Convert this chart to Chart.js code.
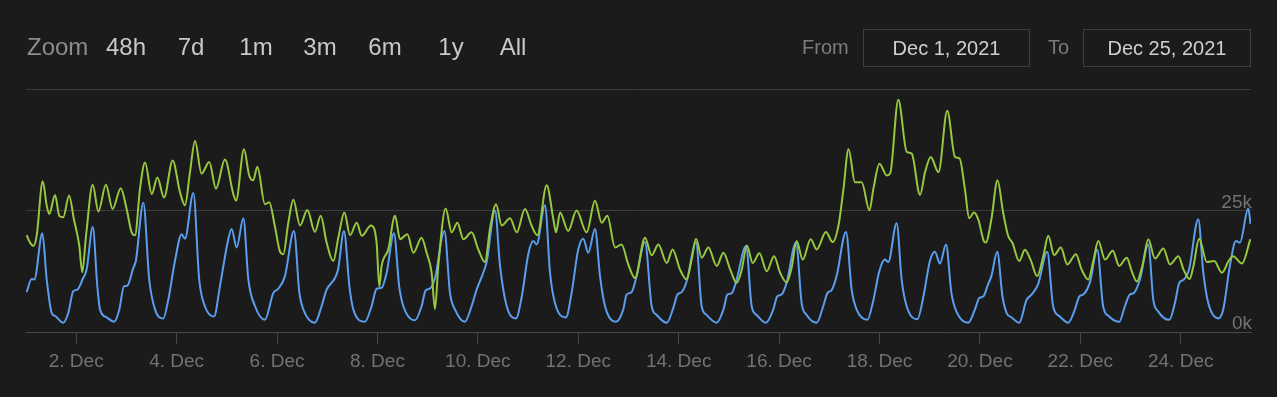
<!DOCTYPE html>
<html>
<head>
<meta charset="utf-8">
<script src="https://cdn.jsdelivr.net/npm/chart.js@4"></script>
<style>
  html, body { margin: 0; padding: 0; background: #1b1b1b; }
  #wrap { position: relative; width: 1277px; height: 397px; font-family: "Liberation Sans", Arial, sans-serif; }
  #chart { position: absolute; left: 0; top: 0; }
  .lbl { position: absolute; color: #8a8a8a; line-height: 1; white-space: nowrap; }
  .btn { position: absolute; color: #c8c8c8; font-size: 24px; line-height: 1; top: 35px; transform: translateX(-50%); }
  .box { position: absolute; top: 29px; height: 36px; border: 1px solid #3e3e3e; color: #cfcfcf;
         font-size: 20px; line-height: 36px; text-align: center; box-sizing: content-box; }
</style>
</head>
<body>
<div id="wrap">
  <canvas id="chart" width="1277" height="397"></canvas>
  <div id="topbar"></div>
</div>
<script>
// hours since Dec 1 00:00 (thousands)
let greenHours = [0.3,1.9,3.5,5.1,8.0,9.9,11.1,13.9,15.9,17.8,20.6,22.9,25.4,26.9,28.7,31.9,34.6,38.2,41.4,45.3,48.1,50.5,52.1,54.5,56.9,60.1,62.8,66.0,70.1,73.6,76.0,78.4,80.8,83.9,87.6,90.8,95.1,99.1,100.4,104.2,106.7,108.6,110.6,114.2,116.3,118.9,121.3,123.0,125.4,127.8,131.0,134.5,138.1,140.9,143.7,146.9,149.3,152.2,154.9,158.1,160.5,164.9,167.6,168.9,170.0,173.2,176.4,178.8,182.3,185.2,189.1,191.5,193.9,195.5,197.1,200.6,203.5,206.2,209.1,213.0,216.2,219.4,221.8,224.7,227.4,231.4,234.6,238.5,241.7,244.4,248.9,252.1,253.4,255.3,259.2,263.2,268.0,272.0,275.2,277.9,281.6,284.7,287.9,291.1,295.9,299.1,302.3,306.3,309.1,312.6,315.8,318.2,320.3,323.0,326.2,330.2,333.4,336.6,339.7,342.2,344.6,347.4,350.6,354.1,357.6,360.5,363.6,366.0,368.4,371.3,375.1,378.0,382.4,385.6,388.4,390.8,393.2,396.3,399.5,403.2,405.1,408.0,411.5,413.1,417.0,421.0,423.4,427.4,429.8,432.5,436.2,440.4,444.1,446.3,448.8,450.9,453.1,455.2,457.9,458.8,461.5,464.4,467.1,469.5,471.5,474.8,477.5,480.2,483.4,486.3,488.7,491.5,494.7,497.8,501.9,504.6,507.8,510.2,512.6,515.8,519.5,522.6,526.2,528.6,531.0,533.8,536.5,539.7,543.7,546.9,550.9,553.3,556.2,558.1,560.8,564.5,568.0,571.7,574.9,577.0,581.3,585.3];
let greenValues = [19.9,18.4,17.7,19.8,31.0,26.0,24.3,28.2,23.9,23.6,28.1,23.2,18.0,12.3,19.8,30.3,24.8,30.3,25.3,29.6,25.3,20.5,19.9,29.5,34.9,28.4,31.8,27.7,35.3,28.8,26.1,32.9,39.3,32.6,35.0,29.5,35.5,28.4,27.0,37.6,32.2,31.2,34.0,26.3,26.7,21.9,16.7,16.0,22.5,27.2,21.9,25.1,20.6,23.9,18.4,14.6,19.4,24.6,19.9,22.5,19.8,21.9,18.4,9.4,13.6,17.0,23.9,19.1,20.1,16.3,19.4,16.3,12.2,4.7,13.6,25.4,20.5,22.5,19.1,20.5,17.0,14.4,21.2,26.3,21.9,23.4,20.5,25.3,21.9,19.9,30.2,23.2,20.5,24.6,20.8,25.0,20.5,27.0,22.5,23.9,17.4,18.0,13.9,11.1,19.4,15.8,18.0,14.2,17.0,12.9,10.8,14.9,19.2,15.3,17.4,13.6,16.3,12.9,10.1,12.9,17.8,14.2,16.2,12.5,15.6,12.2,10.2,13.2,18.7,14.9,19.1,17.0,20.6,18.5,21.9,29.5,37.6,30.8,30.8,25.0,29.5,34.6,32.2,32.6,47.8,37.1,36.7,28.2,32.9,36.0,32.9,45.5,36.0,35.7,29.5,23.4,24.6,23.2,18.7,18.4,23.2,31.2,24.6,19.8,18.4,14.6,16.9,14.9,11.5,15.6,19.8,15.8,17.4,13.9,16.0,12.9,10.8,14.6,18.7,14.9,16.7,13.6,15.3,12.5,10.4,13.9,19.1,15.1,17.2,13.9,15.6,12.9,10.9,13.6,19.2,14.4,14.6,12.2,14.6,15.6,14.1,19.1];

let blueHours = [0.3,2.7,4.0,7.8,9.9,12.3,13.9,17.8,20.2,22.6,24.5,27.1,29.0,31.9,34.1,35.4,38.6,42.1,44.6,46.8,48.4,51.3,52.5,56.1,58.9,61.7,65.6,68.0,71.2,74.4,76.0,80.0,82.8,85.5,89.9,92.7,96.7,98.3,100.7,103.9,106.3,109.5,114.2,118.2,120.6,123.8,128.1,130.7,132.6,138.1,141.3,143.7,147.7,149.2,152.0,154.6,156.5,162.0,165.2,167.6,170.0,172.4,175.9,178.4,180.4,185.9,189.1,191.1,193.0,195.5,200.0,202.7,205.1,209.8,213.0,215.4,218.6,220.2,224.2,226.6,229.8,234.2,237.0,240.1,242.5,244.1,248.1,250.5,252.9,258.1,260.8,264.0,266.4,268.8,272.0,274.4,276.8,282.0,285.5,287.1,289.5,291.9,295.9,299.1,301.5,306.3,309.4,311.4,313.4,315.8,320.3,323.0,325.4,330.2,333.4,335.3,337.4,339.7,344.2,346.9,349.3,353.7,357.2,359.1,361.2,363.6,368.1,370.8,373.2,378.0,381.1,383.1,385.1,387.5,392.0,394.7,397.1,402.2,405.1,407.9,410.6,412.2,416.2,418.6,421.0,426.1,429.0,432.1,434.5,436.9,439.8,442.4,444.8,450.4,453.6,455.7,457.6,459.9,461.5,464.3,466.8,468.8,471.2,474.8,478.3,480.7,483.8,488.2,491.0,494.2,498.2,501.4,503.5,505.4,508.6,512.1,514.9,517.8,522.6,525.3,527.7,529.6,532.5,536.5,538.9,541.3,546.5,549.2,551.3,553.5,556.0,560.4,562.8,565.2,569.9,572.3,575.5,578.4,580.3,584.3,585.4];
let blueValues = [8.2,10.9,10.8,20.3,10.8,3.9,3.3,1.9,3.9,8.4,8.7,10.9,12.9,21.6,9.4,4.6,3.0,2.1,4.6,9.4,9.5,13.2,14.6,26.6,10.8,4.6,2.8,6.6,14.6,20.1,19.2,28.6,10.8,5.3,3.2,9.4,19.1,21.2,17.4,23.4,10.8,5.3,2.5,8.0,8.9,11.5,20.8,8.0,4.6,1.9,5.3,8.7,11.1,12.9,20.8,9.4,4.6,2.1,5.3,8.9,9.1,12.2,20.3,9.4,5.3,2.4,5.3,8.6,8.9,11.1,20.8,8.0,4.6,2.1,5.3,8.7,12.2,14.4,25.0,13.6,5.3,2.8,7.3,16.0,18.7,18.0,26.1,12.2,5.9,3.0,8.0,17.0,19.2,16.3,21.2,11.5,5.3,2.1,4.6,7.7,8.2,11.5,18.5,5.3,3.5,1.9,4.9,7.7,8.2,10.4,18.4,5.3,3.5,1.9,4.6,7.7,8.0,10.8,17.7,5.3,3.5,1.9,4.6,7.3,7.7,10.1,18.4,5.9,3.5,1.9,5.3,8.0,8.6,11.5,20.6,8.7,4.6,2.5,6.6,12.5,14.9,14.4,22.4,10.8,5.3,2.6,7.3,14.6,16.5,14.1,18.0,8.0,4.2,1.9,4.6,7.0,7.3,9.8,11.5,16.5,7.3,3.9,3.0,1.9,6.6,7.7,9.8,16.5,5.3,3.2,1.9,4.6,7.3,7.7,10.2,16.9,5.3,3.2,2.1,5.3,7.7,8.0,10.8,18.0,6.6,4.2,2.5,5.9,10.1,10.8,12.9,23.2,12.2,5.9,2.8,4.6,13.6,18.7,18.4,25.4,22.2];

let tickHours = [24,72,120,168,216,264,312,360,408,456,504,552];
let tickLabels = ['2. Dec','4. Dec','6. Dec','8. Dec','10. Dec','12. Dec','14. Dec','16. Dec','18. Dec','20. Dec','22. Dec','24. Dec'];
let zoomButtons = ['48h','7d','1m','3m','6m','1y','All'];

function toPoints(hours, values) {
    return hours.map(function(h, i) { return { x: h, y: values[i] * 1000 }; });
}

// range selector + date inputs as plain text on top of the canvas
let topBar = document.getElementById('topbar');
let html = '<div class="lbl" style="left:27px;top:35px;font-size:24px;color:#8c8c8c">Zoom</div>';
let btnX = [126, 191, 256, 320, 385, 451, 513];
zoomButtons.forEach(function(b, i) {
    html += '<div class="btn" style="left:' + btnX[i] + 'px">' + b + '</div>';
});
html += '<div class="lbl" style="left:802px;top:37px;font-size:20px;color:#7c7c7c">From</div>';
html += '<div class="box" style="left:863px;width:165px">Dec 1, 2021</div>';
html += '<div class="lbl" style="left:1048px;top:37px;font-size:20px;color:#7c7c7c">To</div>';
html += '<div class="box" style="left:1083px;width:166px">Dec 25, 2021</div>';
topBar.innerHTML = html;

var ctx = document.getElementById('chart').getContext('2d');
var chart = new Chart(ctx, {
    type: 'line',
    data: {
        datasets: [{
            data: toPoints(greenHours, greenValues),
            borderColor: '#98c83e',
            borderWidth: 2,
            pointRadius: 0,
            tension: 0.4,
            cubicInterpolationMode: 'monotone'
        }, {
            data: toPoints(blueHours, blueValues),
            borderColor: '#5b9ef0',
            borderWidth: 2,
            pointRadius: 0,
            tension: 0.4,
            cubicInterpolationMode: 'monotone'
        }]
    },
    options: {
        responsive: false,
        animation: false,
        maintainAspectRatio: false,
        layout: { padding: { left: 26, right: 26, top: 89, bottom: 0 } },
        plugins: { legend: { display: false }, tooltip: { enabled: false } },
        scales: {
            x: {
                type: 'linear',
                min: 0,
                max: 585.6,
                afterBuildTicks: function(scale) {
                    scale.ticks = tickHours.map(function(h) { return { value: h }; });
                },
                afterFit: function(scale) { scale.height = 65; },
                ticks: {
                    autoSkip: false,
                    maxRotation: 0,
                    color: '#727272',
                    font: { family: 'Liberation Sans', size: 19 },
                    padding: 6,
                    callback: function(v) { return tickLabels[tickHours.indexOf(v)]; }
                },
                grid: { drawOnChartArea: false, drawTicks: true, tickLength: 12, color: '#484848' },
                border: { display: true, color: '#484848', width: 1 }
            },
            y: {
                position: 'right',
                min: 0,
                max: 50000,
                afterBuildTicks: function(scale) {
                    scale.ticks = [{ value: 0 }, { value: 25000 }, { value: 50000 }];
                },
                afterFit: function(scale) { scale.width = 0; },
                ticks: {
                    mirror: true,
                    padding: 1,
                    labelOffset: -8,
                    color: '#727272',
                    font: { family: 'Liberation Sans', size: 19 },
                    callback: function(v) { return v === 50000 ? '' : (v / 1000) + 'k'; }
                },
                grid: { drawTicks: false, color: '#3c3c3c' },
                border: { display: false }
            }
        }
    }
});
</script>
</body>
</html>
